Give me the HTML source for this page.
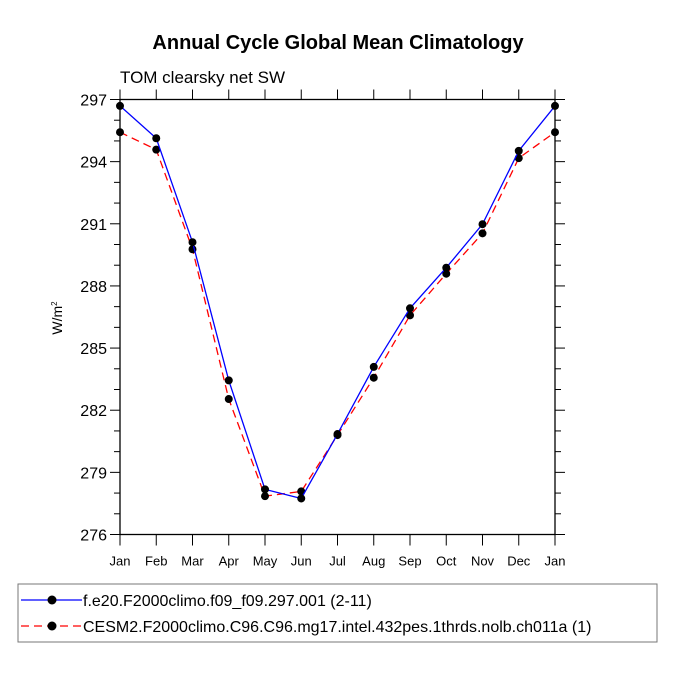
<!DOCTYPE html>
<html><head><meta charset="utf-8"><style>
body{margin:0;background:#fff}
svg text{font-family:"Liberation Sans",sans-serif}
</style></head><body>
<svg id="chart" width="675" height="675" viewBox="0 0 675 675" xmlns="http://www.w3.org/2000/svg">
<rect width="675" height="675" fill="#fff"/>
<text x="338" y="49" text-anchor="middle" font-size="20" font-weight="bold">Annual Cycle Global Mean Climatology</text>
<text x="120" y="83" font-size="17">TOM clearsky net SW</text>
<text transform="translate(62,318) rotate(-90)" text-anchor="middle" font-size="14">W/m<tspan font-size="8" dy="-5">2</tspan></text>
<g id="axes"></g>
<g id="series"></g>
<rect x="18" y="584" width="639" height="58" fill="none" stroke="#777" stroke-width="1"/>
<g>
<line x1="21" y1="600" x2="82" y2="600" stroke="#00f" stroke-width="1.3"/>
<circle cx="52" cy="600" r="4.5" fill="#000"/>
<text x="83" y="606" font-size="16">f.e20.F2000climo.f09_f09.297.001 (2-11)</text>
</g>
<g>
<line x1="21" y1="626" x2="82" y2="626" stroke="#f00" stroke-width="1.3" stroke-dasharray="8,5"/>
<circle cx="52" cy="626" r="4.5" fill="#000"/>
<text x="83" y="632" font-size="16">CESM2.F2000climo.C96.C96.mg17.intel.432pes.1thrds.nolb.ch011a (1)</text>
</g>
</svg>
<script>
const months=["Jan","Feb","Mar","Apr","May","Jun","Jul","Aug","Sep","Oct","Nov","Dec","Jan"];
const blueValues=[296.69,295.13,290.11,283.44,278.18,277.74,280.85,284.09,286.92,288.88,290.98,294.52,296.69];
const redValues=[295.42,294.58,289.77,282.54,277.85,278.08,280.80,283.57,286.58,288.59,290.54,294.17,295.42];
const yTicks=[276,279,282,285,288,291,294,297];
const X0=120,X1=555,Y0=99.5,Y1=534.5,YMIN=276,YMAX=297;
const NS="http://www.w3.org/2000/svg";
function xs(i){return X0+(X1-X0)*i/(months.length-1);}
function ys(v){return Y1-(v-YMIN)/(YMAX-YMIN)*(Y1-Y0);}
function mk(tag,attrs,parent){const e=document.createElementNS(NS,tag);for(const k in attrs)e.setAttribute(k,attrs[k]);parent.appendChild(e);return e;}
const axes=document.getElementById('axes'),series=document.getElementById('series');
const frame=mk('rect',{x:X0,y:Y0,width:X1-X0,height:Y1-Y0,fill:'none',stroke:'#000','stroke-width':1.3},axes);


for(let v=YMIN;v<=YMAX;v++){
  const major=(v-YMIN)%3===0,len=major?10:6,y=ys(v);
  mk('line',{x1:X0-len,y1:y,x2:X0,y2:y,stroke:'#000','stroke-width':1},axes);
  mk('line',{x1:X1,y1:y,x2:X1+len,y2:y,stroke:'#000','stroke-width':1},axes);
}
yTicks.forEach(v=>{
  const t=mk('text',{x:X0-13,y:ys(v)+6,'text-anchor':'end','font-size':16},axes);
  t.textContent=v;
  
  
});
months.forEach((m,i)=>{
  const x=xs(i);
  mk('line',{x1:x,y1:Y1,x2:x,y2:Y1+11,stroke:'#000','stroke-width':1},axes);
  mk('line',{x1:x,y1:Y0-10,x2:x,y2:Y0,stroke:'#000','stroke-width':1},axes);
  const t=mk('text',{x:x,y:Y1+31,'text-anchor':'middle','font-size':13},axes);
  t.textContent=m;
  
  
});
function draw(vals,color,dash,name){
  const pts=vals.map((v,i)=>xs(i)+','+ys(v)).join(' ');
  const pl=mk('polyline',{points:pts,fill:'none',stroke:color,'stroke-width':1.3},series);
  if(dash)pl.setAttribute('stroke-dasharray',dash);
  
  
  vals.forEach((v,i)=>{
    const c=mk('circle',{cx:xs(i),cy:ys(v),r:4,fill:'#000'},series);
    
    
  });
}
draw(redValues,'#f00','8,5','red-series');
draw(blueValues,'#00f',null,'blue-series');
</script>
</body></html>
